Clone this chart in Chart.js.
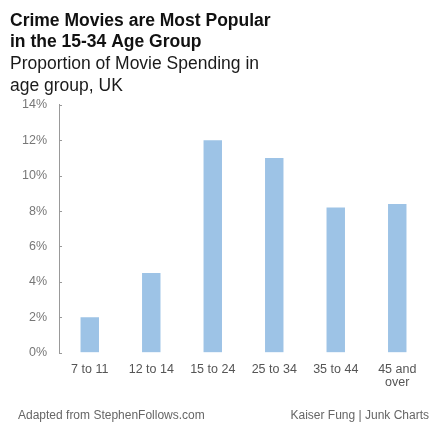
<!DOCTYPE html>
<html>
<head>
<meta charset="utf-8">
<script src="https://cdn.jsdelivr.net/npm/chart.js@4.4.1/dist/chart.umd.min.js"></script>
<style>
    html, body { margin: 0; padding: 0; background: #fff; }
    #wrap { position: relative; width: 433px; height: 425px; }
</style>
</head>
<body>
<div id="wrap"><canvas id="crimeChart" width="433" height="425"></canvas></div>
<script>
// Age groups and share of crime movie spending (%)
const ageGroups = ['7 to 11', '12 to 14', '15 to 24', '25 to 34', '35 to 44', ['45 and', 'over']];
const spendShare = [2.0, 4.5, 12.0, 11.0, 8.2, 8.4];
const yTicks = [0, 2, 4, 6, 8, 10, 12, 14];

const titleLines = ['Crime Movies are Most Popular', 'in the 15-34 Age Group'];
const subtitleLines = ['Proportion of Movie Spending in', 'age group, UK'];
const sourceNote = 'Adapted from StephenFollows.com';
const creditNote = 'Kaiser Fung | Junk Charts';

const FONT = "'Liberation Sans', Arial, sans-serif";

// Footer texts under the plot, one on each side
const footerPlugin = {
    id: 'footerNotes',
    afterDraw(chart) {
        const ctx = chart.ctx;
        ctx.save();
        ctx.font = '12px ' + FONT;
        ctx.fillStyle = '#666';
        ctx.textBaseline = 'middle';
        ctx.textAlign = 'left';
        ctx.fillText(sourceNote, 18, 416);
        ctx.textAlign = 'right';
        ctx.fillText(creditNote, 429, 416);
        ctx.restore();
    }
};

// Small inward tick marks on the y axis
const innerTicks = {
    id: 'innerTicks',
    afterDraw(chart) {
        const y = chart.scales.y;
        const ctx = chart.ctx;
        ctx.save();
        ctx.strokeStyle = '#999';
        ctx.lineWidth = 1;
        y.ticks.forEach(t => {
            const py = Math.round(y.getPixelForValue(t.value)) + 0.5;
            ctx.beginPath();
            ctx.moveTo(y.right, py);
            ctx.lineTo(y.right + 3, py);
            ctx.stroke();
        });
        ctx.restore();
    }
};

const ctx = document.getElementById('crimeChart').getContext('2d');
new Chart(ctx, {
    type: 'bar',
    data: {
        labels: ageGroups,
        datasets: [{
            data: spendShare,
            backgroundColor: '#9dc3e6',
            barPercentage: 0.6,
            categoryPercentage: 0.5
        }]
    },
    options: {
        responsive: false,
        animation: false,
        layout: { padding: { left: 10, right: 5, top: 0, bottom: 34 } },
        plugins: {
            legend: { display: false },
            tooltip: { enabled: false },
            title: {
                display: true,
                text: titleLines,
                align: 'start',
                color: '#111',
                font: { family: FONT, size: 17.5, weight: 'bold', lineHeight: 1.24 },
                padding: { top: 10, bottom: 0 }
            },
            subtitle: {
                display: true,
                text: subtitleLines,
                align: 'start',
                color: '#1a1a1a',
                font: { family: FONT, size: 17.5, lineHeight: 1.24 },
                padding: { top: 0, bottom: 8 }
            }
        },
        scales: {
            x: {
                grid: { display: false },
                border: { display: false },
                ticks: {
                    color: '#555',
                    font: { family: FONT, size: 12.5, lineHeight: 1.05 },
                    padding: 2,
                    maxRotation: 0,
                    autoSkip: false
                }
            },
            y: {
                min: 0,
                max: 14,
                afterBuildTicks: axis => { axis.ticks = yTicks.map(v => ({ value: v })); },
                grid: { drawOnChartArea: false, drawTicks: false },
                border: { display: true, color: '#999' },
                ticks: {
                    color: '#777',
                    font: { family: FONT, size: 12.5 },
                    padding: 12,
                    callback: v => v + '%'
                }
            }
        }
    },
    plugins: [footerPlugin, innerTicks]
});
</script>
</body>
</html>
